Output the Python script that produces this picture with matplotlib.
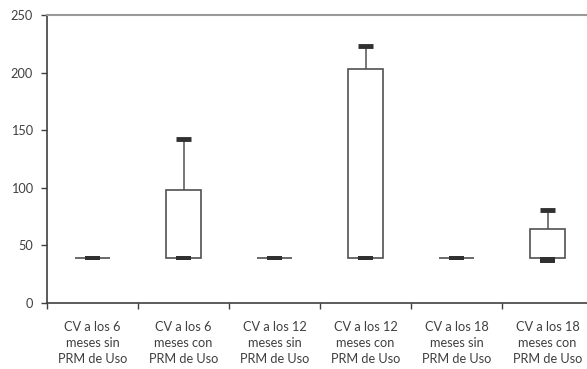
import matplotlib.pyplot as plt
from matplotlib.ticker import FixedLocator

# Data
categories = [
    "CV a los 6\nmeses sin\nPRM de Uso",
    "CV a los 6\nmeses con\nPRM de Uso",
    "CV a los 12\nmeses sin\nPRM de Uso",
    "CV a los 12\nmeses con\nPRM de Uso",
    "CV a los 18\nmeses sin\nPRM de Uso",
    "CV a los 18\nmeses con\nPRM de Uso",
]
q1 = [39, 39, 39, 39, 39, 39]
q3 = [39, 98, 39, 203, 39, 64]
whisker_top = [39, 142, 39, 223, 39, 81]
median_low = [37.5, 37.5, 37.5, 37.5, 37.5, 34.5]
median_high = [40.5, 40.5, 40.5, 40.5, 40.5, 39.5]

plt.rcParams['font.family'] = ['Lato', 'DejaVu Sans']
text_col = "#404040"

fig = plt.figure(figsize=(5.87, 3.69), dpi=100)
ax = fig.add_axes([47 / 587, 1 - 303 / 369, (593 - 47) / 587, (303 - 15) / 369])

x = list(range(1, len(categories) + 1))
box_w = 0.38
mark_w = 0.17

# boxes
ax.bar(x, [h - l for l, h in zip(q1, q3)], bottom=q1, width=box_w,
       color="white", edgecolor="#505050", linewidth=1.2, zorder=2)
# whiskers
ax.vlines(x, q3, whisker_top, color="#606060", linewidth=1.2, zorder=1)
# caps (only where there is a whisker)
for xi, lo, top in zip(x, q3, whisker_top):
    if top > lo:
        ax.hlines(top, xi - mark_w / 2, xi + mark_w / 2, color="#303030",
                  linewidth=3.5, zorder=3)
# medians
ax.bar(x, [h - l for l, h in zip(median_low, median_high)], bottom=median_low,
       width=mark_w, color="#303030", linewidth=0, zorder=4)

ax.set_xlim(0.5, len(categories) + 0.5)
ax.set_ylim(0, 250)
ax.set_yticks([0, 50, 100, 150, 200, 250])

ax.set_xticks(x)
ax.set_xticklabels(categories, linespacing=1.4)
ax.xaxis.set_minor_locator(FixedLocator([i + 0.5 for i in range(len(categories) + 1)]))
ax.tick_params(axis="x", which="major", length=0, pad=13)
ax.tick_params(axis="x", which="minor", length=4, width=1, color=text_col, direction="out")
ax.tick_params(axis="y", length=4, width=1, color=text_col, pad=6)
ax.tick_params(labelsize=9.2, labelcolor=text_col)

for side in ["left", "bottom"]:
    ax.spines[side].set_color(text_col)
    ax.spines[side].set_linewidth(1.2)
ax.spines["top"].set_color("#999999")
ax.spines["top"].set_linewidth(1.5)
ax.spines["right"].set_visible(False)

fig.savefig("out.png", dpi=100)
